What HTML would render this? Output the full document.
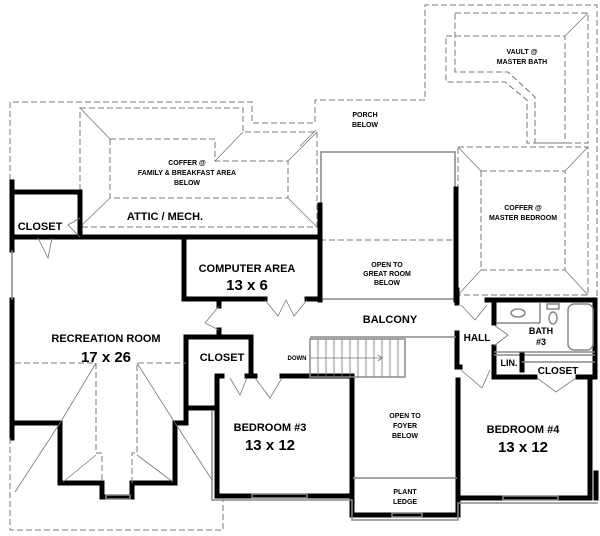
<!DOCTYPE html>
<html><head><meta charset="utf-8"><style>
html,body{margin:0;padding:0;background:#fff;}
svg{display:block;}
text{font-family:"Liberation Sans",sans-serif;font-weight:bold;fill:#000;text-anchor:middle;}
.w{stroke:#000;stroke-width:5;fill:none;stroke-linecap:square;}
.t{stroke:#888;stroke-width:1.5;fill:none;}
.d{stroke:#777;stroke-width:1;fill:none;stroke-dasharray:6,3;}
.th{stroke:#777;stroke-width:0.8;fill:none;}
</style></head><body>
<svg width="600" height="536" viewBox="0 0 600 536" xmlns="http://www.w3.org/2000/svg">
<polyline class="d" points="10,180 10,102 252,102 252,123 315,123 315,100 425,100 425,5 597,5 597,300"/>
<polygon class="d" points="80,108 243,108 243,132 317,132 317,227 80,227"/>
<polygon class="d" points="110,139 215,139 215,161 288,161 288,198 110,198"/>
<line class="th" x1="80" y1="108" x2="110" y2="139"/><line class="th" x1="243" y1="132" x2="215" y2="161"/>
<line class="th" x1="317" y1="132" x2="288" y2="161"/><line class="th" x1="80" y1="227" x2="110" y2="198"/>
<line class="th" x1="317" y1="227" x2="288" y2="198"/>
<polygon class="d" points="455,13 588,13 588,143 535,143 535,97 508,72 455,72"/>
<polygon class="d" points="446,36 565,36 565,143 527,143 527,100 505,82 446,82"/>
<line class="th" x1="588" y1="13" x2="565" y2="36"/>
<rect class="d" x="458" y="147" width="130" height="148"/>
<rect class="d" x="481" y="171" width="84" height="99"/>
<line class="th" x1="458" y1="147" x2="481" y2="171"/><line class="th" x1="588" y1="147" x2="565" y2="171"/>
<line class="th" x1="458" y1="295" x2="481" y2="270"/><line class="th" x1="588" y1="295" x2="565" y2="270"/>
<line class="th" x1="316" y1="130" x2="300" y2="146"/>
<polyline class="t" points="321,205 321,152 455,152 455,189"/>
<line class="d" x1="320" y1="240" x2="456" y2="240"/>
<line class="t" x1="320" y1="299" x2="456" y2="299"/>
<polyline class="w" points="12,182 12,250"/>
<polyline class="w" points="12,300 12,438"/>
<line class="t" x1="12" y1="250" x2="12" y2="300"/>
<polyline class="w" points="12,192 80,192 80,237"/>
<line class="w" x1="12" y1="237" x2="320" y2="237"/>
<line class="w" x1="320" y1="205" x2="320" y2="300"/>
<polyline class="w" points="265,299 184,299 184,237"/>
<line class="w" x1="307" y1="299" x2="320" y2="299"/>
<line class="w" x1="456" y1="189" x2="456" y2="300"/>
<line class="w" x1="219" y1="300" x2="219" y2="306"/>
<line class="w" x1="219" y1="330" x2="219" y2="337"/>
<polyline class="w" points="12,423 60,423 60,483 102,483 102,497 132,497 132,483 175,483 175,423 186,423 186,337 251,337 251,375"/>
<polyline class="w" points="186,408 217,408 217,376 222,376"/>
<line class="w" x1="247" y1="376" x2="255" y2="376"/>
<line class="w" x1="282" y1="376" x2="352" y2="376"/>
<polyline class="w" points="217,376 217,496 352,496 352,515 458,515 458,498 590,498 590,377"/>
<line class="w" x1="352" y1="376" x2="352" y2="498"/>
<line class="w" x1="457" y1="333" x2="457" y2="367"/>
<line class="w" x1="457" y1="367" x2="460" y2="367"/>
<line class="w" x1="458" y1="380" x2="458" y2="498"/>
<line class="w" x1="457" y1="290" x2="457" y2="303"/>
<line class="w" x1="596" y1="473" x2="596" y2="498"/>
<!-- bath / lin / closet -->
<polyline class="w" points="487,300 595,300 595,377"/>
<polyline class="w" points="494,300 494,323"/>
<polyline class="w" points="494,347 494,377 535,377"/>
<line class="w" x1="578" y1="377" x2="595" y2="377"/>
<line class="t" x1="494" y1="352" x2="595" y2="352"/>
<line class="t" x1="494" y1="355" x2="595" y2="355"/>
<line class="w" x1="522" y1="355" x2="522" y2="370"/>
<line class="t" x1="522" y1="362" x2="595" y2="362"/>
<line class="t" x1="497" y1="323" x2="540" y2="323"/>
<line class="t" x1="540" y1="303" x2="540" y2="323"/>
<rect class="t" x="568" y="304" width="25" height="46" rx="6"/>
<ellipse class="t" cx="518" cy="313" rx="7" ry="4"/>
<ellipse class="t" cx="553" cy="318" rx="4" ry="6"/>
<rect class="t" x="547" y="304" width="12" height="5"/>
<!-- stairs -->
<line class="t" x1="310" y1="337" x2="456" y2="337"/>
<rect class="t" x="310" y="339" width="95" height="38"/>
<g class="th"><line x1="318" y1="339" x2="318" y2="377"/><line x1="326" y1="339" x2="326" y2="377"/><line x1="334" y1="339" x2="334" y2="377"/><line x1="342" y1="339" x2="342" y2="377"/><line x1="350" y1="339" x2="350" y2="377"/><line x1="358" y1="339" x2="358" y2="377"/><line x1="366" y1="339" x2="366" y2="377"/><line x1="374" y1="339" x2="374" y2="377"/><line x1="382" y1="339" x2="382" y2="377"/><line x1="390" y1="339" x2="390" y2="377"/><line x1="398" y1="339" x2="398" y2="377"/>
<line x1="310" y1="358" x2="382" y2="358"/><polyline points="378,355 382,358 378,361"/></g>
<line class="t" x1="353" y1="478" x2="457" y2="478"/>
<g class="th" stroke="#444">
<path d="M265,300 L278,316 L286,300 L294,316 L307,300"/>
<path d="M219,306 L205,323 L219,330"/>
<path d="M230,378 L240,395 L247,378"/>
<path d="M255,378 L270,398 L282,378"/>
<path d="M38,238 L48,258 L52,238"/>
<path d="M80,218 L68,225 L80,237"/>
<path d="M461,305 L475,320 L487,305"/>
<path d="M461,370 L482,388 L490,370"/>
<path d="M537,378 L556,392 L576,378"/>
<path d="M494,325 L508,335 L494,346"/>
</g>
<g class="t"><rect x="252" y="494" width="55" height="4"/><rect x="392" y="513" width="30" height="4"/><rect x="503" y="496" width="55" height="4"/><rect x="106" y="495" width="24" height="4"/></g>
<polyline class="t" points="212,410 212,500 352,500 352,520 458,520 458,503 598,503"/>
<polyline class="d" points="15,363 96,363 96,453 102,453 102,483"/>
<polyline class="d" points="132,483 132,453 137,453 137,363 186,363"/>
<polyline class="d" points="10,438 10,530 223,530 223,500"/>
<g class="th"><line x1="96" y1="363" x2="60" y2="423"/><line x1="60" y1="423" x2="15" y2="492"/><line x1="137" y1="363" x2="175" y2="423"/><line x1="175" y1="423" x2="212" y2="480"/><line x1="96" y1="455" x2="63" y2="482"/><line x1="137" y1="455" x2="173" y2="482"/></g>
<g font-size="7"><text x="187" y="165">COFFER @</text><text x="187" y="175">FAMILY &amp; BREAKFAST AREA</text><text x="187" y="185">BELOW</text>
<text x="365" y="117">PORCH</text><text x="365" y="127">BELOW</text>
<text x="522" y="54">VAULT @</text><text x="522" y="64">MASTER BATH</text>
<text x="523" y="210">COFFER @</text><text x="523" y="220">MASTER BEDROOM</text>
<text x="387" y="267">OPEN TO</text><text x="387" y="276">GREAT ROOM</text><text x="387" y="285">BELOW</text>
<text x="405" y="418">OPEN TO</text><text x="405" y="428">FOYER</text><text x="405" y="438">BELOW</text>
<text x="405" y="494">PLANT</text><text x="405" y="504">LEDGE</text></g>
<text x="297" y="360" font-size="6">DOWN</text>
<g font-size="11"><text x="165" y="220">ATTIC / MECH.</text><text x="40" y="230">CLOSET</text>
<text x="247" y="272">COMPUTER AREA</text><text x="390" y="323">BALCONY</text>
<text x="106" y="342">RECREATION ROOM</text><text x="222" y="361">CLOSET</text>
<text x="270" y="431">BEDROOM #3</text><text x="523" y="433">BEDROOM #4</text>
<text x="477" y="341" font-size="10">HALL</text><text x="558" y="374" font-size="10">CLOSET</text>
<text x="509" y="366" font-size="9">LIN.</text><text x="541" y="334" font-size="9">BATH</text><text x="541" y="345" font-size="9">#3</text></g>
<g font-size="15"><text x="247" y="290">13 x 6</text><text x="106" y="362">17 x 26</text><text x="270" y="450">13 x 12</text><text x="523" y="452">13 x 12</text></g>
</svg>
</body></html>
